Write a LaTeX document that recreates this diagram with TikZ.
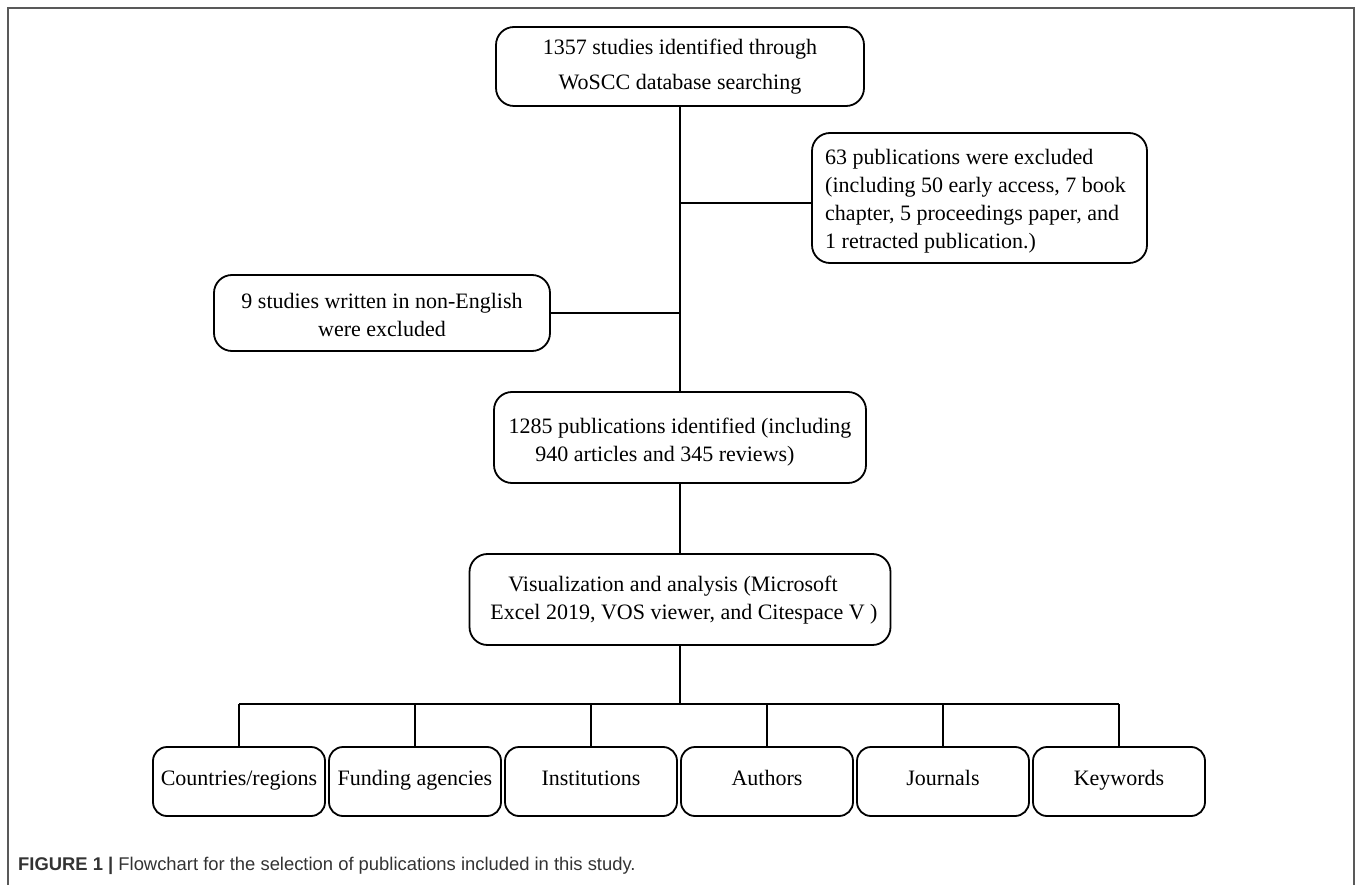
\documentclass[tikz,border=0pt]{standalone}
\usepackage{fontspec}
\setmainfont{Liberation Serif}
\newfontfamily\capfont{Liberation Sans}
\begin{document}
\begin{tikzpicture}[x=1pt,y=-1pt,
  box/.style={draw, line width=1.8pt, rounded corners=18pt, inner sep=0pt},
  txt/.style={inner sep=0pt, align=center, font=\fontsize{22}{28}\selectfont},
  leaf/.style={box, rounded corners=14pt, minimum width=172pt, minimum height=69pt,
    font=\fontsize{22}{28}\selectfont, text height=13pt, text depth=5pt},
  link/.style={line width=1.8pt}]
\useasboundingbox (0,0) rectangle (1358,885);
\draw[black!65, line width=2pt] (8,885) -- (8,8) -- (1354,8) -- (1354,885);

\node[box, minimum width=368pt, minimum height=79pt] (top) at (680,66.5) {};
\node[txt, font=\fontsize{22}{35}\selectfont] (topT) at (top.center)
  {1357 studies identified through\\WoSCC database searching};
\node[box, minimum width=335pt, minimum height=130pt] (right) at (979.5,198) {};
\node[txt, align=left] (rightT) at ([xshift=-4pt,yshift=-3pt]right.center)
  {63 publications were excluded\\(including 50 early access, 7 book\\chapter, 5 proceedings paper, and\\1 retracted publication.)};
\node[box, minimum width=336pt, minimum height=76pt] (left) at (382,313) {};
\node[txt] (leftT) at ([yshift=-2pt]left.center)
  {9 studies written in non-English\\were excluded};
\node[box, minimum width=372pt, minimum height=91pt] (mid) at (680,437.5) {};
\node[txt] (midT) at ([yshift=-5pt]mid.center)
  {1285 publications identified (including\\940 articles and 345 reviews)\hspace*{30pt}};
\node[box, minimum width=421pt, minimum height=91pt] (vis) at (680,599.5) {};
\node[txt] (visT) at ([yshift=-1pt]vis.center)
  {Visualization and analysis (Microsoft\hspace*{14pt}\\\hspace*{8pt}Excel 2019, VOS viewer, and Citespace V )};

\node[leaf] (b1) at (239,781.5) {Countries/regions};
\node[leaf] (b2) at (415,781.5) {Funding agencies};
\node[leaf] (b3) at (591,781.5) {Institutions};
\node[leaf] (b4) at (767,781.5) {Authors};
\node[leaf] (b5) at (943,781.5) {Journals};
\node[leaf] (b6) at (1119,781.5) {Keywords};

\coordinate (jr) at (680,203);
\coordinate (jl) at (680,313);
\coordinate (bus) at (680,704);

\draw[link] (top.south) -- (mid.north);
\draw[link] (jr) -- (jr -| right.west);
\draw[link] (jl) -- (jl -| left.east);
\draw[link] (mid.south) -- (vis.north);
\draw[link] (vis.south) -- (bus);
\draw[link] (bus -| b1.north) -- (bus -| b6.north);
\foreach \b in {b1,b2,b3,b4,b5,b6} \draw[link] (bus -| \b.north) -- (\b.north);

\node[anchor=base west, inner sep=0pt, text=black!80, font=\capfont\fontsize{18.4}{20}\selectfont] (cap) at (18,870)
  {\textbf{FIGURE 1 |} Flowchart for the selection of publications included in this study.};
\end{tikzpicture}
\end{document}
